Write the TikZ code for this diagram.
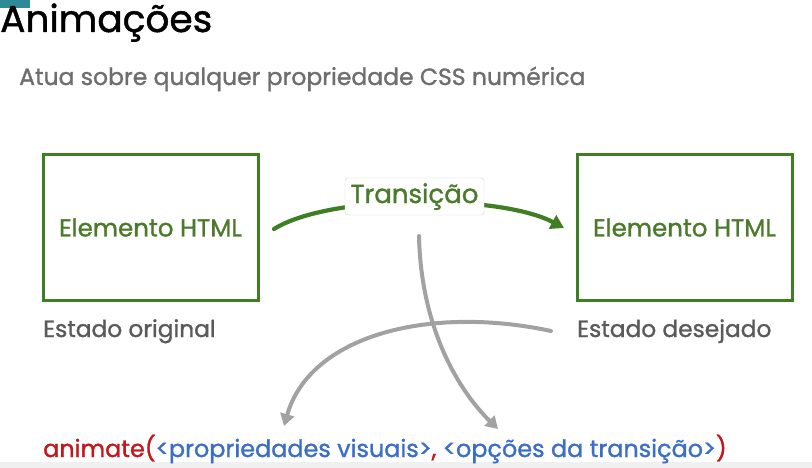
\documentclass[tikz,border=0pt]{standalone}
\usepackage{fontspec}
\setmainfont{Poppins}[FakeBold=1.2]
\usetikzlibrary{arrows.meta}
\definecolor{boxgreen}{HTML}{3F7F23}
\definecolor{txtgreen}{HTML}{4C7A2C}
\definecolor{txtgray}{HTML}{5A5A5A}
\definecolor{subgray}{HTML}{6E6E6E}
\definecolor{arrgray}{HTML}{A2A2A2}
\definecolor{codered}{HTML}{C4161C}
\definecolor{codeblue}{HTML}{3B6FC6}
\definecolor{badge}{HTML}{2F8A98}
\tikzset{
  elbox/.style={draw=boxgreen, line width=3pt, minimum width=215pt, minimum height=145pt, inner sep=0pt,
    text=txtgreen, font=\fontsize{24.5}{28}\selectfont},
  statelbl/.style={anchor=west, text=txtgray, font=\fontsize{23.3}{27}\selectfont, inner sep=0pt},
  garrow/.style={draw=arrgray, line width=4pt, line cap=round, -{Triangle[length=12pt,width=14pt]}},
  greenarrow/.style={draw=boxgreen, line width=4.2pt, line cap=round, -{Triangle[length=13pt,width=15pt]}}
}
\begin{document}
\begin{tikzpicture}[x=1pt,y=-1pt]
\useasboundingbox (0,0) rectangle (812,468);
\fill[white] (0,0) rectangle (812,468);
\fill[black!6] (0,462) rectangle (812,468);
\fill[badge] (0,0) rectangle (30,8);
% title
\node[anchor=base west, inner sep=0pt, font=\fontsize{37.5}{42}\selectfont] (title) at (0,32) {Animações};
\node[anchor=base west, inner sep=0pt, text=subgray, font=\fontsize{23.5}{27}\selectfont] (sub) at (19,85) {Atua sobre qualquer propriedade CSS numérica};
% boxes
\node[elbox] (b1) at (150.5,227.5) {Elemento HTML};
\node[elbox] (b2) at (684.5,227.5) {Elemento HTML};
\node[statelbl, anchor=base west] (s1) at (43,337) {Estado original};
\node[statelbl, anchor=base west] (s2) at (577,337) {Estado desejado};
% green arrow
\coordinate (gs) at (274,229);
\coordinate (ge) at (564,228);
\draw[greenarrow] (gs) .. controls (330,194) and (500,194) .. (ge);
\node[draw=black!18, fill=white, rounded corners=3pt, minimum width=139pt, minimum height=37pt, inner sep=0pt,
  text=txtgreen, font=\fontsize{26}{30}\selectfont] (tr) at (414.5,196.5) {Transição};
% code line
\node[anchor=base west, inner sep=0pt, font=\fontsize{23.9}{28}\selectfont] (code) at (43,457)
  {\textcolor{codered}{animate(}\textcolor{codeblue}{<propriedades visuais>}\textcolor{codered}{, }\textcolor{codeblue}{<opções da transição>}\textcolor{codered}{)}};
\coordinate (c1) at (419,236);
\coordinate (t1) at (498,429);
\coordinate (c2) at (551,331);
\coordinate (t2) at (284,426);
\draw[garrow] (c1) .. controls (421,330) and (460,392) .. (t1);
\draw[garrow] (c2) .. controls (430,305) and (310,335) .. (t2);
\end{tikzpicture}
\end{document}
